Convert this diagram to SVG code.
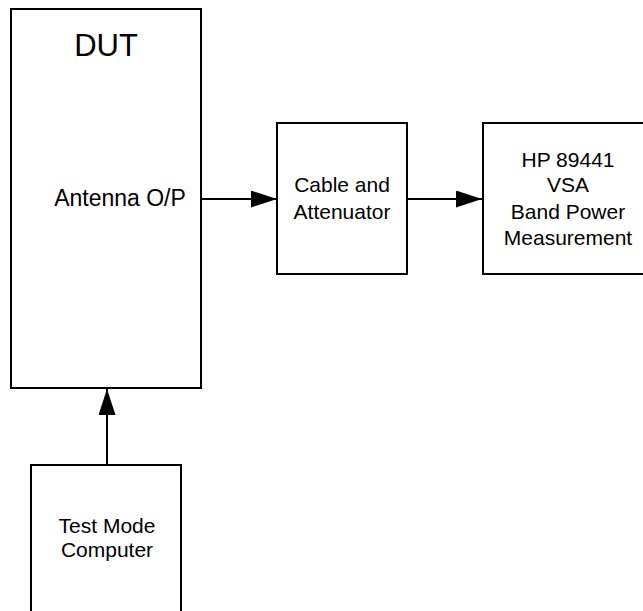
<svg xmlns="http://www.w3.org/2000/svg" width="643" height="611" viewBox="0 0 643 611">
<style>
.box{fill:#fff;stroke:#000;stroke-width:2}
.ln{fill:none;stroke:#000;stroke-width:2}
text{font-family:"Liberation Sans",Arial,sans-serif;fill:#000;text-anchor:middle}
.t{font-size:21px}
</style>
<defs>
<marker id="ah" markerUnits="userSpaceOnUse" markerWidth="27" markerHeight="18" refX="26" refY="8.5" orient="auto" viewBox="0 0 27 18">
<path d="M0,0 L26,8.5 L0,17 Z" fill="#000"/>
</marker>
</defs>
<g id="connectors">
<line class="ln" x1="201" y1="199" x2="277" y2="199" marker-end="url(#ah)"/>
<line class="ln" x1="407" y1="199" x2="482" y2="199" marker-end="url(#ah)"/>
<line class="ln" x1="107" y1="465" x2="107" y2="389" marker-end="url(#ah)"/>
</g>
<g id="dut">
<rect class="box" x="11" y="9" width="190" height="379"/>
<text x="106" y="56" font-size="31px">DUT</text>
<text x="120" y="206" font-size="23px">Antenna O/P</text>
</g>
<g id="cable">
<rect class="box" x="277" y="123" width="130" height="151"/>
<text class="t" x="342" y="192">Cable and</text>
<text class="t" x="342" y="219">Attenuator</text>
</g>
<g id="vsa">
<rect class="box" x="483" y="123" width="170" height="151"/>
<text class="t" x="568" y="167">HP 89441</text>
<text class="t" x="568" y="192">VSA</text>
<text class="t" x="568" y="219">Band Power</text>
<text class="t" x="568" y="245">Measurement</text>
</g>
<g id="computer">
<rect class="box" x="31" y="465" width="150" height="160"/>
<text class="t" x="107" y="533">Test Mode</text>
<text class="t" x="107" y="557">Computer</text>
</g>
</svg>
